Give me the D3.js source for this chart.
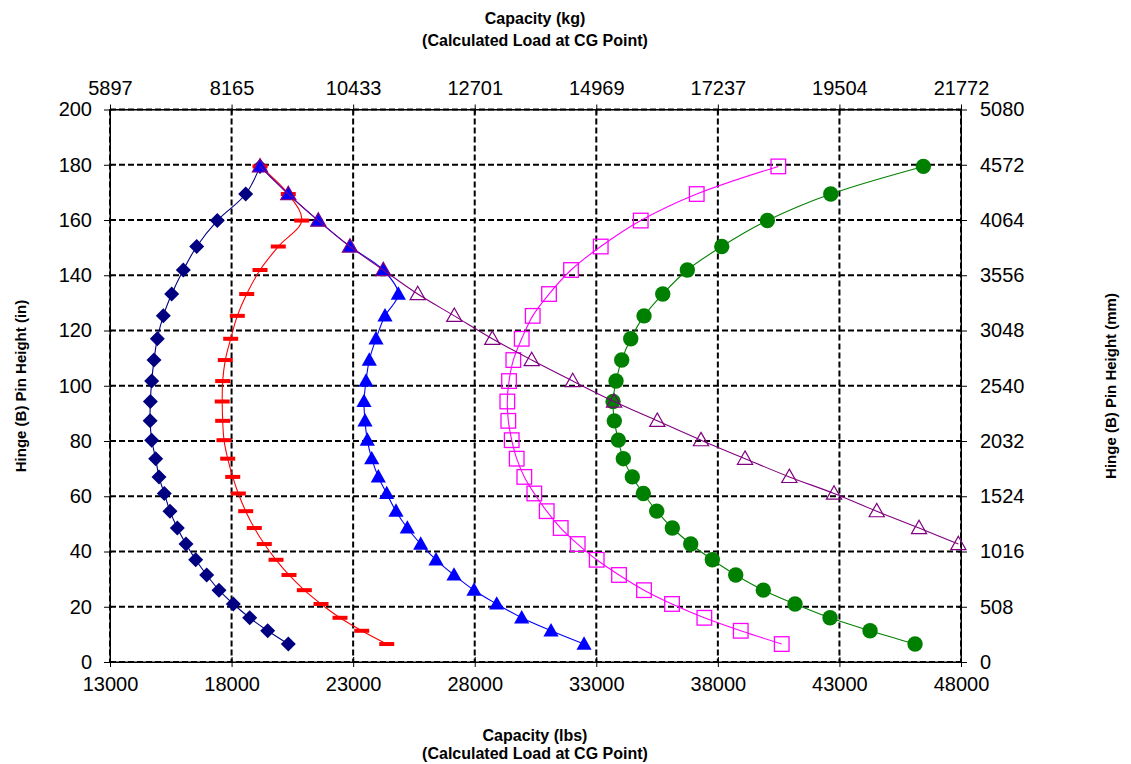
<!DOCTYPE html>
<html>
<head>
<meta charset="utf-8">
<script src="https://cdn.jsdelivr.net/npm/d3@7"></script>
<style>
  html, body { margin: 0; padding: 0; background: #fff; }
  svg { display: block; font-family: "Liberation Sans", Arial, sans-serif; }
</style>
</head>
<body>
<svg id="chart" width="1131" height="764"></svg>
<script>
// ---------- DATA ----------
const heights = [6.5, 11.3, 16, 21, 26, 31.5, 37, 42.7, 48.5, 54.6, 61, 67, 73.6, 80.3, 87.3, 94.3, 101.7, 109.3, 117, 125.3, 133.2, 141.9, 150.4, 159.8, 169.4, 179.4];

const navyValues = [20333, 19486, 18746, 18071, 17483, 16977, 16525, 16126, 15768, 15468, 15233, 15015, 14880, 14715, 14650, 14660, 14715, 14810, 14945, 15192, 15538, 16015, 16566, 17413, 18581, 19170];
const redValues = [24381, 23353, 22460, 21678, 20992, 20362, 19828, 19346, 18935, 18581, 18277, 18047, 17841, 17689, 17635, 17615, 17635, 17742, 17964, 18236, 18622, 19170, 19922, 20885, 20333, 19170];
const blueValues = [32496, 31138, 29933, 28905, 27971, 27149, 26408, 25779, 25228, 24763, 24381, 24036, 23764, 23583, 23488, 23447, 23529, 23665, 23941, 24311, 24858, 24241, 22871, 21567, 20333, 19170];
const magentaValues = [40627, 38941, 37444, 36115, 34963, 33935, 33018, 32236, 31537, 30961, 30451, 30040, 29727, 29522, 29382, 29341, 29411, 29588, 29933, 30386, 31056, 31961, 33183, 34828, 37131, 40487];
const greenValues = [46110, 44259, 42614, 41174, 39870, 38735, 37773, 36884, 36127, 35486, 34935, 34482, 34112, 33907, 33742, 33690, 33812, 34046, 34417, 34964, 35733, 36745, 38160, 40036, 42643, 46452];
// purple series only visible from 42.7 in upward
const purpleHeights = [42.7, 48.5, 54.6, 61, 67, 73.6, 80.3, 87.3, 94.3, 101.7, 109.3, 117, 125.3, 133.2, 141.9, 150.4, 159.8, 169.4, 179.4];
const purpleValues = [47891, 46274, 44534, 42778, 40940, 39117, 37307, 35510, 33730, 32031, 30344, 28724, 27161, 25656, 24241, 22871, 21567, 20333, 19170];

const lbsTicks = [13000, 18000, 23000, 28000, 33000, 38000, 43000, 48000];
const kgTickLabels = ["5897", "8165", "10433", "12701", "14969", "17237", "19504", "21772"];
const inTicks = [0, 20, 40, 60, 80, 100, 120, 140, 160, 180, 200];
const mmTickLabels = ["0", "508", "1016", "1524", "2032", "2540", "3048", "3556", "4064", "4572", "5080"];

// ---------- LAYOUT ----------
const svg = d3.select("#chart");
const L = 110, R = 961, T = 109.5, B = 662;
const x = d3.scaleLinear().domain([13000, 48000]).range([L, R]);
const y = d3.scaleLinear().domain([0, 200]).range([B, T]);

// grid (dashed)
const grid = svg.append("g");
grid.selectAll("line.v").data(lbsTicks).join("line")
  .attr("x1", d => x(d)).attr("x2", d => x(d)).attr("y1", T).attr("y2", B)
  .attr("stroke", "#000").attr("stroke-width", 2).attr("stroke-dasharray", "6,3");
grid.selectAll("line.h").data(inTicks).join("line")
  .attr("y1", d => y(d)).attr("y2", d => y(d)).attr("x1", L).attr("x2", R)
  .attr("stroke", "#000").attr("stroke-width", 2).attr("stroke-dasharray", "6,3");

// frame
svg.append("rect").attr("x", L).attr("y", T).attr("width", R - L).attr("height", B - T)
  .attr("fill", "none").attr("stroke", "#000").attr("stroke-width", 1);

const tickFont = 20;
function styleAxis(g) {
  g.select(".domain").attr("stroke", "#000");
  g.selectAll(".tick line").attr("stroke", "#000");
  g.selectAll(".tick text").attr("font-size", tickFont).attr("font-family", "Liberation Sans, Arial, sans-serif").attr("fill", "#000");
}

// bottom axis
svg.append("g").attr("transform", `translate(0,${B})`)
  .call(d3.axisBottom(x).tickValues(lbsTicks).tickFormat(d3.format("d")).tickSizeInner(5).tickSizeOuter(0).tickPadding(10))
  .call(styleAxis)
  .call(g => g.selectAll(".tick line").attr("y1", -5));

// top axis (kg labels at the same positions)
svg.append("g").attr("transform", `translate(0,${T})`)
  .call(d3.axisTop(x).tickValues(lbsTicks).tickFormat((d, i) => kgTickLabels[i]).tickSizeInner(5).tickSizeOuter(0).tickPadding(10))
  .call(styleAxis)
  .call(g => g.selectAll(".tick line").attr("y1", 5));

// left axis
svg.append("g").attr("transform", `translate(${L},0)`)
  .call(d3.axisLeft(y).tickValues(inTicks).tickFormat(d3.format("d")).tickSizeInner(6).tickSizeOuter(0).tickPadding(12))
  .call(styleAxis)
  .call(g => g.selectAll(".tick line").attr("x1", 2));

// right axis (mm labels)
svg.append("g").attr("transform", `translate(${R},0)`)
  .call(d3.axisRight(y).tickValues(inTicks).tickFormat((d, i) => mmTickLabels[i]).tickSizeInner(6).tickSizeOuter(0).tickPadding(13))
  .call(styleAxis)
  .call(g => g.selectAll(".tick line").attr("x1", -3));

// titles
const titleAttrs = sel => sel.attr("font-size", 16).attr("font-weight", "bold").attr("text-anchor", "middle").attr("fill", "#000");
const cx = (L + R) / 2;
svg.append("text").attr("x", cx - 0.5).attr("y", 741).text("Capacity (lbs)").call(titleAttrs);
svg.append("text").attr("x", cx - 0.5).attr("y", 759).text("(Calculated Load at CG Point)").call(titleAttrs);
svg.append("text").attr("x", cx - 0.5).attr("y", 24).text("Capacity (kg)").call(titleAttrs);
svg.append("text").attr("x", cx - 0.5).attr("y", 46).text("(Calculated Load at CG Point)").call(titleAttrs);
svg.append("text").attr("transform", `translate(26,386) rotate(-90)`).text("Hinge (B) Pin Height (in)").call(titleAttrs).attr("font-size", 15);
svg.append("text").attr("transform", `translate(1116,386) rotate(-90)`).text("Hinge (B) Pin Height (mm)").call(titleAttrs).attr("font-size", 15);

// ---------- SERIES ----------
const line = d3.line().x(d => x(d[0])).y(d => y(d[1])).curve(d3.curveCatmullRom.alpha(0.5));
const plot = svg.append("g");

const diamondPath = "M0,-7.5L7.5,0L0,7.5L-7.5,0Z";
const trianglePath = "M0,-7.8L7.6,5.6L-7.6,5.6Z";

function drawSeries(values, hs, color, marker) {
  const pts = values.map((v, i) => [v, hs[i]]);
  const g = plot.append("g");
  g.append("path").attr("d", line(pts)).attr("fill", "none").attr("stroke", color).attr("stroke-width", 1.1);
  const m = g.selectAll("g.m").data(pts).join("g").attr("transform", d => `translate(${x(d[0])},${y(d[1])})`);
  marker(m, color);
}

drawSeries(navyValues, heights, "#000080", (m, c) => m.append("path").attr("d", diamondPath).attr("fill", c));
drawSeries(redValues, heights, "#FF0000", (m, c) => m.append("rect").attr("x", -7.5).attr("y", -2).attr("width", 15).attr("height", 4).attr("fill", c));
drawSeries(blueValues, heights, "#0000FF", (m, c) => m.append("path").attr("d", trianglePath).attr("fill", c));
drawSeries(magentaValues, heights, "#FF00FF", (m, c) => m.append("rect").attr("x", -7.3).attr("y", -7.3).attr("width", 14.6).attr("height", 14.6).attr("fill", "none").attr("stroke", c).attr("stroke-width", 1.3));
drawSeries(greenValues, heights, "#008000", (m, c) => m.append("circle").attr("r", 7.7).attr("fill", c));
drawSeries(purpleValues, purpleHeights, "#800080", (m, c) => m.append("path").attr("d", trianglePath).attr("fill", "none").attr("stroke", c).attr("stroke-width", 1.2));
</script>
</body>
</html>
